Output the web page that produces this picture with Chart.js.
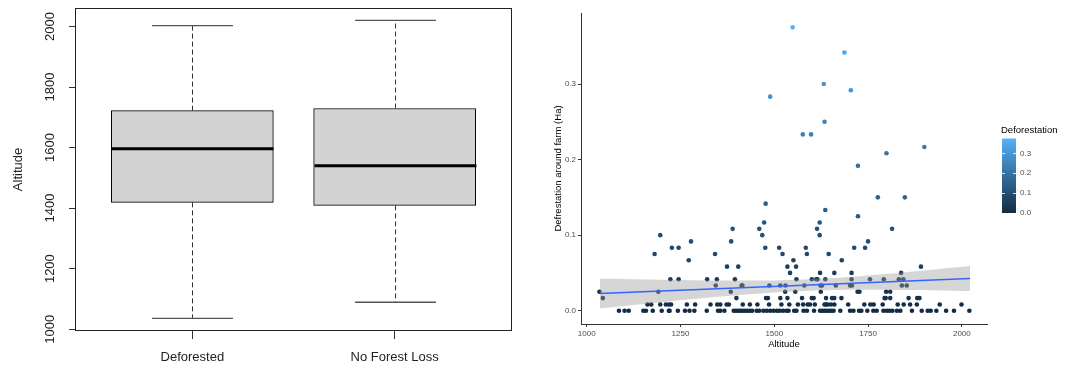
<!DOCTYPE html>
<html lang="en">
<head>
<meta charset="UTF-8">
<title>Altitude and deforestation</title>
<script src="https://cdn.jsdelivr.net/npm/chart.js"></script>
<style>
    body { margin: 0; background: #fff; }
    #wrap { position: relative; width: 1072px; height: 365px; }
    #boxChart { position: absolute; left: 0; top: 0; }
    #scatterChart { position: absolute; left: 540px; top: 0; }
</style>
</head>
<body>
<div id="wrap">
    <canvas id="boxChart" width="540" height="365"></canvas>
    <canvas id="scatterChart" width="532" height="365"></canvas>
</div>
<script>
// ---- left panel: boxplot of altitude ----
const groups = ['Deforested', 'No Forest Loss'];
const whiskerLow = [1036, 1089];
const q1 = [1419, 1409];
const median = [1596, 1540];
const q3 = [1722, 1729];
const whiskerHigh = [2003, 2020];
const altTicks = [1000, 1200, 1400, 1600, 1800, 2000];

// ---- right panel: deforestation vs altitude ----
// deforestation levels (ha) and the farm altitudes found at each level
const defLevels = [0.375, 0.3417, 0.3, 0.2917, 0.2833, 0.25, 0.2333, 0.2167, 0.2083, 0.1917,
    0.15, 0.1417, 0.1333, 0.125, 0.1167, 0.1083, 0.1, 0.0917, 0.0833, 0.075,
    0.0667, 0.0583, 0.05, 0.0417, 0.0333, 0.025, 0.0167, 0.0083, 0];
const altByLevel = [
    [1549], [1687], [1632], [1704], [1489], [1634], [1576, 1598], [1900], [1799], [1723],
    [1776, 1848], [1477], [1636], [1723], [1473, 1621], [1389, 1460, 1614, 1814],
    [1196, 1468, 1621], [1278, 1385, 1750], [1227, 1245, 1476, 1513, 1584, 1713, 1742],
    [1181, 1342, 1522, 1587, 1645], [1272, 1551, 1680], [1374, 1404, 1535, 1558, 1891],
    [1542, 1622, 1660, 1706, 1838],
    [1223, 1245, 1321, 1347, 1395, 1559, 1600, 1612, 1615, 1636, 1706, 1755, 1792, 1832, 1844],
    [1344, 1413, 1415, 1487, 1516, 1530, 1580, 1623, 1627, 1664, 1702, 1707, 1840, 1853],
    [1034, 1191, 1384, 1529, 1556, 1624, 1722, 1727, 1798, 1809],
    [1043, 1399, 1478, 1483, 1516, 1535, 1574, 1600, 1605, 1638, 1654, 1660, 1679, 1794, 1797,
     1809, 1858, 1881, 1887],
    [1162, 1172, 1196, 1211, 1219, 1225, 1267, 1289, 1330, 1348, 1356, 1373, 1379, 1416, 1435,
     1455, 1486, 1519, 1540, 1563, 1577, 1589, 1595, 1608, 1634, 1638, 1642, 1651, 1660, 1697,
     1740, 1756, 1765, 1789, 1829, 1845, 1862, 1880, 1941, 1999],
    [1086, 1101, 1112, 1151, 1158, 1176, 1200, 1219, 1221, 1243, 1262, 1274, 1287, 1320, 1350,
     1356, 1367, 1392, 1398, 1404, 1410, 1416, 1422, 1428, 1435, 1441, 1453, 1460, 1471, 1480,
     1489, 1498, 1507, 1514, 1523, 1532, 1538, 1553, 1559, 1578, 1587, 1606, 1622, 1628, 1634,
     1640, 1646, 1652, 1658, 1676, 1702, 1711, 1726, 1732, 1748, 1764, 1773, 1791, 1800, 1807,
     1815, 1827, 1836, 1867, 1893, 1909, 1917, 1932, 1958, 1979, 2020]
];
// linear fit and its confidence band
const fitAlt = [1035, 2022];
const fitDef = [0.0228, 0.0425];
const bandAlt = [1035, 1200, 1350, 1500, 1580, 1700, 1850, 2022];
const bandLow = [0.0031, 0.0113, 0.0183, 0.0241, 0.0262, 0.0276, 0.0274, 0.0260];
const bandHigh = [0.0425, 0.0409, 0.0399, 0.0401, 0.0412, 0.0446, 0.0508, 0.0590];
const xTicks = [1000, 1250, 1500, 1750, 2000];
const yTicks = [0, 0.1, 0.2, 0.3];
const legendTicks = [0, 0.1, 0.2, 0.3];
const legendMax = 0.375;
const lowColor = [0x13, 0x2B, 0x43];
const highColor = [0x56, 0xB1, 0xF7];

function gradColor(v) {
    const t = Math.min(1, Math.max(0, v / legendMax));
    const c = lowColor.map((l, i) => Math.round(l + (highColor[i] - l) * t));
    return `rgb(${c[0]},${c[1]},${c[2]})`;
}

// whiskers, caps, medians, frame and rotated tick labels (R style)
const boxExtras = {
    id: 'boxExtras',
    afterDatasetsDraw(chart) {
        const { ctx, chartArea: a, scales: { x, y } } = chart;
        const seg = (x1, y1, x2, y2) => {
            ctx.beginPath(); ctx.moveTo(x1, y1); ctx.lineTo(x2, y2); ctx.stroke();
        };
        ctx.save();
        groups.forEach((g, i) => {
            const cx = Math.round(x.getPixelForValue(i + 1)) + 0.5;
            const capHalf = x.getPixelForValue(i + 1.2) - x.getPixelForValue(i + 1);
            const boxHalf = x.getPixelForValue(i + 1.4) - x.getPixelForValue(i + 1);
            ctx.strokeStyle = '#333';
            ctx.lineWidth = 1;
            ctx.setLineDash([5, 3]);
            seg(cx, y.getPixelForValue(q3[i]), cx, y.getPixelForValue(whiskerHigh[i]));
            seg(cx, y.getPixelForValue(q1[i]), cx, y.getPixelForValue(whiskerLow[i]));
            ctx.setLineDash([]);
            ctx.strokeStyle = '#555';
            ctx.lineWidth = 1.3;
            seg(cx - capHalf, y.getPixelForValue(whiskerHigh[i]), cx + capHalf, y.getPixelForValue(whiskerHigh[i]));
            seg(cx - capHalf, y.getPixelForValue(whiskerLow[i]), cx + capHalf, y.getPixelForValue(whiskerLow[i]));
            ctx.strokeStyle = '#000';
            ctx.lineWidth = 3;
            seg(cx - boxHalf, y.getPixelForValue(median[i]), cx + boxHalf, y.getPixelForValue(median[i]));
        });
        ctx.strokeStyle = '#222';
        ctx.lineWidth = 1;
        ctx.strokeRect(Math.round(a.left) + 0.5, Math.round(a.top) + 0.5,
            Math.round(a.width) - 1, Math.round(a.height) - 1);
        ctx.fillStyle = '#222';
        ctx.font = '13px "Liberation Sans", Arial, sans-serif';
        ctx.textAlign = 'center';
        ctx.textBaseline = 'middle';
        altTicks.forEach(v => {
            ctx.save();
            ctx.translate(50, y.getPixelForValue(v));
            ctx.rotate(-Math.PI / 2);
            ctx.fillText(String(v), 0, 0);
            ctx.restore();
        });
        ctx.restore();
    }
};

new Chart(document.getElementById('boxChart'), {
    type: 'bar',
    data: {
        datasets: [{
            data: groups.map((g, i) => ({ x: i + 1, y: [q1[i], q3[i]] })),
            backgroundColor: '#d3d3d3',
            borderColor: '#000',
            borderWidth: 1,
            borderSkipped: false,
            barThickness: 162
        }]
    },
    options: {
        responsive: false,
        animation: false,
        devicePixelRatio: 1,
        layout: { padding: { left: 0, top: 8, right: 28, bottom: 0 } },
        plugins: { legend: { display: false }, tooltip: { enabled: false } },
        scales: {
            x: {
                type: 'linear',
                min: 0.42,
                max: 2.58,
                offset: false,
                afterBuildTicks: s => { s.ticks = groups.map((g, i) => ({ value: i + 1 })); },
                afterFit: s => { s.height = 34; },
                ticks: {
                    callback: v => groups[v - 1],
                    font: { size: 13, family: '"Liberation Sans", Arial, sans-serif' },
                    color: '#222',
                    padding: 11,
                    maxRotation: 0
                },
                grid: { offset: false, drawOnChartArea: false, tickLength: 8, color: '#333' },
                border: { display: false }
            },
            y: {
                min: 994,
                max: 2061,
                afterBuildTicks: s => { s.ticks = altTicks.map(v => ({ value: v })); },
                afterFit: s => { s.width = 75; },
                ticks: { display: false },
                grid: { drawOnChartArea: false, tickLength: 6, color: '#333' },
                border: { display: false },
                title: {
                    display: true,
                    text: 'Altitude',
                    font: { size: 13, family: '"Liberation Sans", Arial, sans-serif' },
                    color: '#222',
                    padding: { top: 11, bottom: 0 }
                }
            }
        }
    },
    plugins: [boxExtras]
});

// colour bar legend
const colorBar = {
    id: 'colorBar',
    afterDraw(chart) {
        const { ctx } = chart;
        const left = 462, right = 476, bottom = 213, top = 138.5;
        const yOf = v => bottom - (bottom - top) * v / legendMax;
        ctx.save();
        ctx.fillStyle = '#000';
        ctx.font = '9.5px "Liberation Sans", Arial, sans-serif';
        ctx.textAlign = 'left';
        ctx.textBaseline = 'middle';
        ctx.fillText('Deforestation', 461, 130);
        const g = ctx.createLinearGradient(0, bottom, 0, top);
        g.addColorStop(0, gradColor(0));
        g.addColorStop(1, gradColor(legendMax));
        ctx.fillStyle = g;
        ctx.fillRect(left, top, right - left, bottom - top);
        ctx.strokeStyle = 'rgba(255,255,255,0.8)';
        ctx.lineWidth = 1;
        ctx.font = '8px "Liberation Sans", Arial, sans-serif';
        ctx.fillStyle = '#4d4d4d';
        legendTicks.forEach(v => {
            const yy = Math.round(yOf(v)) + 0.5;
            ctx.beginPath();
            ctx.moveTo(left, yy); ctx.lineTo(left + 3, yy);
            ctx.moveTo(right - 3, yy); ctx.lineTo(right, yy);
            ctx.stroke();
            ctx.fillText(v.toFixed(1), right + 4, yOf(v));
        });
        ctx.restore();
    }
};

const farmPoints = [];
defLevels.forEach((d, i) => altByLevel[i].forEach(a => farmPoints.push({ x: a, y: d })));

const font8 = { size: 8, family: '"Liberation Sans", Arial, sans-serif' };
const font95 = { size: 9.5, family: '"Liberation Sans", Arial, sans-serif' };

new Chart(document.getElementById('scatterChart'), {
    type: 'scatter',
    data: {
        datasets: [
            {
                data: farmPoints,
                backgroundColor: farmPoints.map(p => gradColor(p.y)),
                borderWidth: 0,
                pointRadius: 2.3,
                order: 3
            },
            {
                data: bandAlt.map((a, i) => ({ x: a, y: bandLow[i] })),
                showLine: true,
                borderWidth: 0,
                borderColor: 'rgba(0,0,0,0)',
                pointRadius: 0,
                tension: 0.3,
                fill: false,
                order: 2
            },
            {
                data: bandAlt.map((a, i) => ({ x: a, y: bandHigh[i] })),
                showLine: true,
                borderWidth: 0,
                borderColor: 'rgba(0,0,0,0)',
                backgroundColor: 'rgba(153,153,153,0.4)',
                pointRadius: 0,
                tension: 0.3,
                fill: '-1',
                order: 2
            },
            {
                data: fitAlt.map((a, i) => ({ x: a, y: fitDef[i] })),
                showLine: true,
                borderColor: '#3366FF',
                borderWidth: 1.5,
                pointRadius: 0,
                fill: false,
                order: 1
            }
        ]
    },
    options: {
        responsive: false,
        animation: false,
        devicePixelRatio: 1,
        layout: { padding: { left: 0, top: 13, right: 85, bottom: 0 } },
        plugins: { legend: { display: false }, tooltip: { enabled: false } },
        scales: {
            x: {
                type: 'linear',
                min: 984.8,
                max: 2067,
                afterBuildTicks: s => { s.ticks = xTicks.map(v => ({ value: v })); },
                afterFit: s => { s.height = 41; },
                ticks: { font: font8, color: '#4d4d4d', padding: 2, maxRotation: 0, callback: v => String(v) },
                grid: { drawOnChartArea: false, tickLength: 3, color: '#333' },
                border: { color: '#333', width: 1 },
                title: {
                    display: true, text: 'Altitude', font: font95, color: '#000',
                    padding: { top: 0, bottom: 15 }
                }
            },
            y: {
                min: -0.0176,
                max: 0.394,
                afterBuildTicks: s => { s.ticks = yTicks.map(v => ({ value: v })); },
                afterFit: s => { s.width = 41; },
                ticks: { font: font8, color: '#4d4d4d', padding: 2, callback: v => v.toFixed(1) },
                grid: { drawOnChartArea: false, tickLength: 3, color: '#333' },
                border: { color: '#333', width: 1 },
                title: {
                    display: true, text: 'Defrestation around farm (Ha)', font: font95, color: '#000',
                    padding: { top: 13, bottom: 0 }
                }
            }
        }
    },
    plugins: [colorBar]
});
</script>
</body>
</html>
